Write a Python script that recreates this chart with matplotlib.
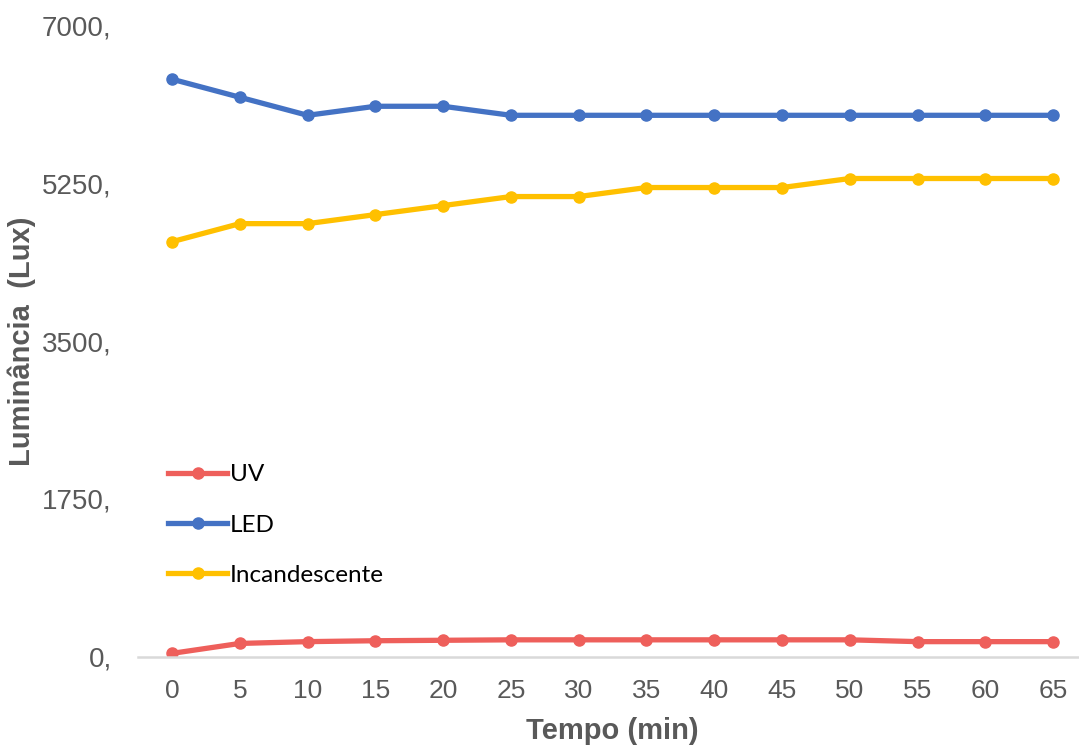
import matplotlib
matplotlib.use("Agg")
from matplotlib import pyplot as plt

tempo = [0, 5, 10, 15, 20, 25, 30, 35, 40, 45, 50, 55, 60, 65]
uv = [40, 150, 170, 180, 185, 190, 190, 190, 190, 190, 190, 170, 170, 170]
led = [6400, 6200, 6000, 6100, 6100, 6000, 6000, 6000, 6000, 6000, 6000, 6000, 6000, 6000]
incandescente = [4600, 4800, 4800, 4900, 5000, 5100, 5100, 5200, 5200, 5200, 5300, 5300, 5300, 5300]
y_ticks = [0, 1750, 3500, 5250, 7000]

gray = "#595959"

fig = plt.figure(figsize=(10.79, 7.47), dpi=100)
ax = fig.add_axes([0.128, 0.1205, 0.8795, 0.846])

ax.plot(tempo, uv, color="#EE5F5B", lw=3.8, marker="o", ms=8, label="UV")
ax.plot(tempo, led, color="#4472C4", lw=3.8, marker="o", ms=8, label="LED")
ax.plot(tempo, incandescente, color="#FFC000", lw=3.8, marker="o", ms=8, label="Incandescente")

ax.set_xlim(-2.5, 67.5)
ax.set_ylim(0, 7000)
ax.set_xticks(tempo)
ax.set_xticklabels([str(t) for t in tempo], fontfamily="Liberation Sans", fontsize=19, color=gray)
ax.set_yticks(y_ticks)
ax.set_yticklabels([f"{v}," for v in y_ticks], fontfamily="Liberation Sans", fontsize=20, color=gray)
ax.tick_params(axis="x", length=0, pad=16)
ax.tick_params(axis="y", length=0, pad=19)

for s in ["top", "right", "left"]:
    ax.spines[s].set_visible(False)
ax.spines["bottom"].set_color("#D9D9D9")
ax.spines["bottom"].set_linewidth(1.8)

ax.set_xlabel("Tempo (min)", fontfamily="Liberation Sans", fontsize=21, fontweight="bold", color=gray, labelpad=10)
ax.set_ylabel("Luminância  (Lux)", fontfamily="Liberation Sans", fontsize=21, fontweight="bold", color=gray, labelpad=4)

leg = ax.legend(loc="upper left", bbox_to_anchor=(0.021, 0.32), frameon=False,
                prop={"family": "Lato", "size": 17.5}, labelspacing=1.2,
                handlelength=2.45, handletextpad=0.1, borderaxespad=0)

fig.savefig("out.png", dpi=100)
